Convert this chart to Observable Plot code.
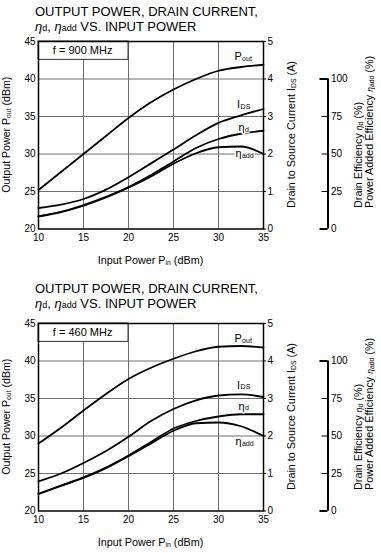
<!DOCTYPE html>
<html><head><meta charset="utf-8">
<script src="https://cdn.jsdelivr.net/npm/d3@7"></script>
<script src="https://cdn.jsdelivr.net/npm/@observablehq/plot@0.6"></script>
<style>
html,body{margin:0;padding:0;background:#fff;}
#root{position:relative;width:381px;height:553px;overflow:hidden;font-family:"Liberation Sans",Arial,Helvetica,sans-serif;}
#root svg{position:absolute;left:0;}
</style></head><body><div id="root"></div>
<script>
// ---------- data ----------
const inputPower = [10, 12.5, 15, 17.5, 20, 22.5, 25, 27.5, 30, 32.5, 35];

// f = 900 MHz
const pout900   = [25.2, 27.6, 30.0, 32.4, 34.8, 36.9, 38.6, 40.0, 41.1, 41.6, 41.9];
const ids900    = [0.56, 0.65, 0.80, 1.05, 1.38, 1.75, 2.12, 2.50, 2.83, 3.03, 3.20];
const etaD900   = [8.5, 11.5, 16, 21.5, 28, 36, 45, 54, 60, 63.5, 65.5];
const etaAdd900 = [8.3, 11.2, 15.5, 21, 27.5, 35, 43.5, 50.5, 54.5, 55, 50];

// f = 460 MHz
const pout460   = [29.0, 31.1, 33.4, 35.6, 37.6, 39.1, 40.3, 41.3, 41.9, 42.0, 41.8];
const ids460    = [0.79, 1.00, 1.28, 1.60, 1.98, 2.40, 2.72, 2.95, 3.08, 3.11, 3.04];
const etaD460   = [11.5, 17, 22.5, 29, 37, 46, 55, 60, 63, 64.5, 64.5];
const etaAdd460 = [11.3, 16.8, 22, 28.5, 36.5, 45, 53.5, 58.5, 59, 56.5, 50];

const freqLabels = ["f = 900 MHz", "f = 460 MHz"];
const xTicks    = [10, 15, 20, 25, 30, 35];
const poutTicks = [20, 25, 30, 35, 40, 45];
const idsTicks  = [0, 1, 2, 3, 4, 5];
const effTicks  = [0, 25, 50, 75, 100];

// ---------- layout ----------
const FONT = '"Liberation Sans", Arial, Helvetica, sans-serif';
const FL = 38, FR = 263;                 // frame left/right px
const pxPerX = (FR - FL) / 25;
const pxToX = px => 10 + (px - FL) / pxPerX;
const idsToY = a => 20 + a * 5;
const effToY = e => 20 + e / 5;
const plotTops = [33, 315];
const titleBase = [16, 293];
const frameOffset = [0, 282];
// curve label y positions (in Pout units) per chart
const labelYs = [
  {pout: 43.0, ids: 36.6, etaD: 33.5, etaAdd: 30.1},
  {pout: 43.0, ids: 36.8, etaD: 34.0, etaAdd: 29.3}
];

const series = [
  {pout: pout900, ids: ids900, etaD: etaD900, etaAdd: etaAdd900},
  {pout: pout460, ids: ids460, etaD: etaD460, etaAdd: etaAdd460}
];

const root = document.getElementById("root");
const effX = pxToX(327.5);

series.forEach((s, i) => {
  const rows = key => inputPower.map((x, j) => ({x, v: s[key][j]}));
  const lineOpts = conv => ({x: "x", y: d => conv(d.v), curve: "monotone-x", stroke: "black", strokeWidth: 1.8});
  const L = labelYs[i];
  const labels = [
    {main: "P", sub: "out", x: pxToX(234), y: L.pout, subPx: 7.6, it: false},
    {main: "I", sub: "DS", x: pxToX(236.5), y: L.ids, subPx: 3.6, it: false},
    {main: "η", sub: "d", x: pxToX(238), y: L.etaD, subPx: 6.4, it: true},
    {main: "η", sub: "add", x: pxToX(235), y: L.etaAdd, subPx: 6.4, it: true}
  ];
  const chart = Plot.plot({
    width: 381, height: 240,
    marginLeft: FL, marginRight: 381 - FR, marginTop: 8, marginBottom: 44.5,
    style: {fontFamily: FONT, fontSize: "10px", background: "transparent", color: "black", overflow: "visible"},
    x: {domain: [10, 35]},
    y: {domain: [20, 45]},
    marks: [
      Plot.ruleX(xTicks.slice(1, -1), {stroke: "#6e6e6e", strokeWidth: 1}),
      Plot.ruleY(poutTicks.slice(1, -1), {stroke: "#6e6e6e", strokeWidth: 1}),
      Plot.rect([freqLabels[i]], {x1: 10, x2: 20, y1: 42.55, y2: 45, fill: "white", stroke: "#333", strokeWidth: 1}),
      Plot.text([freqLabels[i]], {x: 14.9, y: 43.8, text: d => d, fontSize: 11}),
      Plot.frame({stroke: "black", strokeWidth: 1.5}),
      Plot.line(rows("pout"), lineOpts(v => v)),
      Plot.line(rows("ids"), lineOpts(idsToY)),
      Plot.line(rows("etaD"), lineOpts(effToY)),
      Plot.line(rows("etaAdd"), lineOpts(effToY)),
      Plot.text(labels, {x: "x", y: "y", text: "main", textAnchor: "start", fontSize: 11,
        fontStyle: d => d.it ? "italic" : "normal", stroke: "white", strokeWidth: 3, fill: "black"}),
      Plot.text(labels, {x: d => d.x + d.subPx / pxPerX, y: "y", dy: 2, text: "sub", textAnchor: "start", fontSize: 7,
        stroke: "white", strokeWidth: 2, fill: "black"}),
      Plot.axisX({ticks: xTicks, tickSize: 0, tickPadding: 5, label: null, fontSize: 10}),
      Plot.axisY({anchor: "left", ticks: poutTicks, tickSize: 0, tickPadding: 3, label: null, fontSize: 10}),
      Plot.axisY({anchor: "right", ticks: idsTicks.map(idsToY), tickFormat: d => String(Math.round((d - 20) / 5)),
        tickSize: 2, tickPadding: 2, label: null, fontSize: 10}),
      // efficiency axis
      Plot.ruleX([effX], {y1: effToY(0), y2: effToY(100), stroke: "black", strokeWidth: 2}),
      Plot.ruleY(effTicks, {y: effToY, x1: d => (d === 0 || d === 100) ? effX - 8 / pxPerX : effX - 6 / pxPerX, x2: effX,
        stroke: "black", strokeWidth: d => (d === 0 || d === 100) ? 2 : 1}),
      Plot.text(effTicks, {x: effX, y: effToY, text: d => String(d), textAnchor: "start", dx: 3, fontSize: 10})
    ]
  });
  chart.style.top = plotTops[i] + "px";
  root.appendChild(chart);
});

// ---------- overlay texts (titles, axis titles) ----------
const ov = d3.select(root).append("svg").attr("width", 381).attr("height", 553)
  .style("top", "0px").style("font-family", FONT).attr("fill", "black");

function addText(x, y, rot, anchor, size, parts) {
  const t = ov.append("text")
    .attr("transform", `translate(${x},${y})` + (rot ? ` rotate(${rot})` : ""))
    .attr("text-anchor", anchor).attr("font-size", size);
  let shifted = 0;
  parts.forEach(p => {
    const ts = t.append("tspan").text(p.t);
    const want = p.sub ? (p.dy ?? 1) : 0;
    if (want !== shifted) { ts.attr("dy", want - shifted); shifted = want; }
    if (p.size) ts.attr("font-size", p.size);
    if (p.it) ts.attr("font-style", "italic");
  });
}

[0, 1].forEach(i => {
  const tb = titleBase[i], oy = frameOffset[i];
  addText(35, tb, 0, "start", 13, [{t: "OUTPUT POWER, DRAIN CURRENT,"}]);
  addText(35, tb + 14.6, 0, "start", 13, [
    {t: "η", it: true}, {t: "d", size: 9, sub: true, dy: 0.5}, {t: ", "},
    {t: "η", it: true}, {t: "add", size: 9, sub: true, dy: 0.5}, {t: " VS. INPUT POWER"}
  ]);
  addText(10, 134.7 + oy, -90, "middle", 10.6, [
    {t: "Output Power  P"}, {t: "out", size: 6.8, sub: true}, {t: " (dBm)"}
  ]);
  addText(295, 134.5 + oy, -90, "middle", 10.8, [
    {t: "Drain  to Source Current  I"}, {t: "DS", size: 6.8, sub: true}, {t: " (A)"}
  ]);
  addText(362, 208 + oy, -90, "start", 10.8, [
    {t: "Drain Efficiency  "}, {t: "η", it: true, size: 8.5}, {t: "d", size: 6.8, sub: true}, {t: " (%)"}
  ]);
  addText(373, 208 + oy, -90, "start", 10.8, [
    {t: "Power Added Efficiency  "}, {t: "η", it: true, size: 8.5}, {t: "add", size: 6.8, sub: true}, {t: " (%)"}
  ]);
  addText(150.5, 264 + oy, 0, "middle", 10.8, [
    {t: "Input Power  P"}, {t: "in", size: 6.8, sub: true}, {t: " (dBm)"}
  ]);
});
</script></body></html>
